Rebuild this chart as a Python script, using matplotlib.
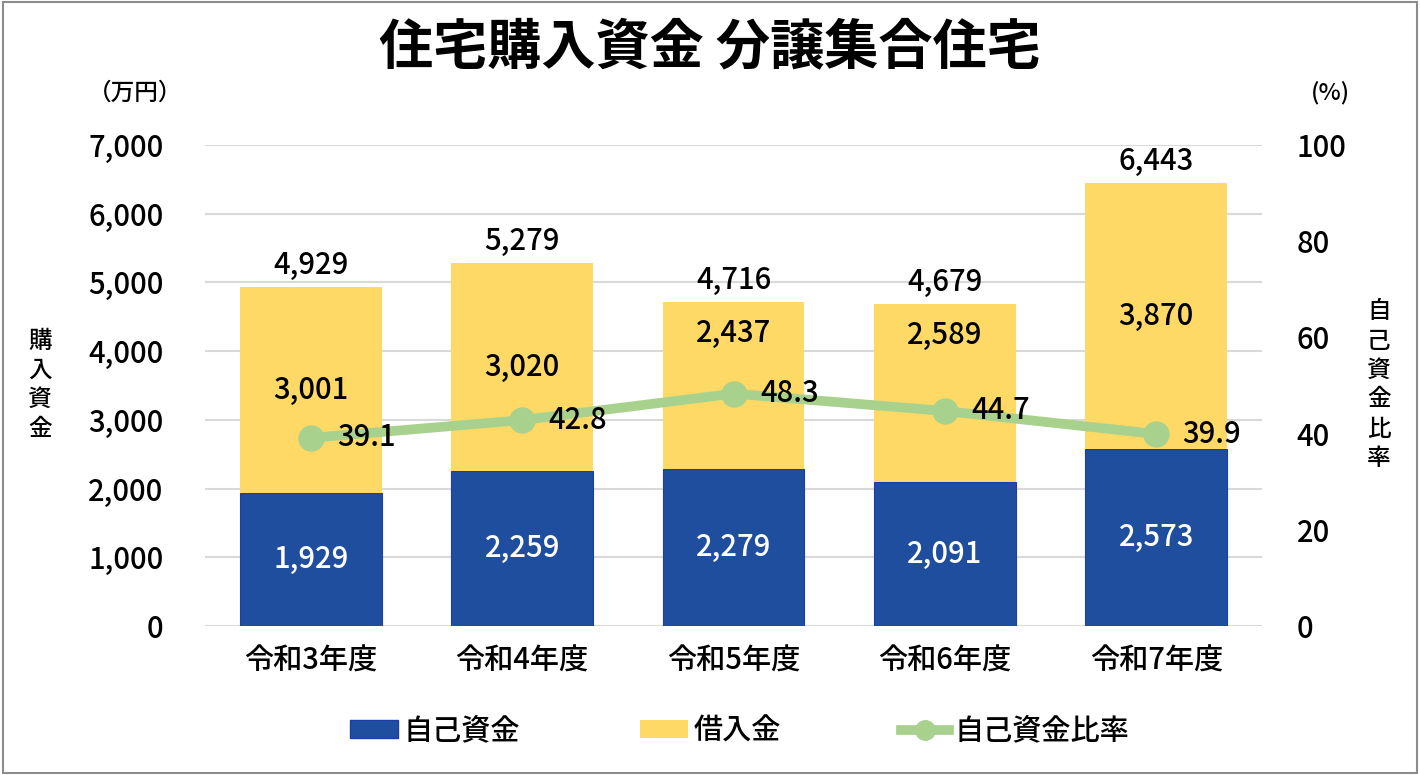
import matplotlib
matplotlib.use('Agg')
import matplotlib.pyplot as plt
from matplotlib.patches import Rectangle
from matplotlib.lines import Line2D
from matplotlib.patches import Patch

plt.rcParams['font.family'] = ['Noto Sans CJK JP', 'DejaVu Sans']
plt.rcParams['font.weight'] = 'medium'

# -----------------------------------------------------------------------------
# data

years = ['令和3年度', '令和4年度', '令和5年度', '令和6年度', '令和7年度']
own_funds = [1929, 2259, 2279, 2091, 2573]       # 自己資金
loans = [3001, 3020, 2437, 2589, 3870]           # 借入金
totals = [4929, 5279, 4716, 4679, 6443]
own_ratio = [39.1, 42.8, 48.3, 44.7, 39.9]       # 自己資金比率 (%)

# -----------------------------------------------------------------------------
# plot

c_blue = '#1F4E9F'
c_yellow = '#FFD966'
c_green = '#A9D18E'
fs = 21

fig = plt.figure(figsize=(14.2, 7.75), dpi=100)
ax = fig.add_axes([0.1444, 0.1923, 0.7443, 0.6206])
ax2 = ax.twinx()

x = range(len(years))
ax.bar(x, own_funds, width=0.67, color=c_blue, edgecolor='#1A3DA8', linewidth=0.8, zorder=2)
ax.bar(x, loans, width=0.67, bottom=own_funds, color=c_yellow, zorder=2)

# yellow labels of 令和5/6年度 are lifted to keep clear of the ratio labels
lift = {2: 4264 - (own_funds[2] + loans[2] / 2), 3: 4235 - (own_funds[3] + loans[3] / 2)}
for i in x:
    ax.text(i, own_funds[i] / 2, f'{own_funds[i]:,}', ha='center', va='center',
            color='white', fontsize=fs, zorder=3)
    ax.text(i, own_funds[i] + loans[i] / 2 + lift.get(i, 0), f'{loans[i]:,}',
            ha='center', va='center', color='black', fontsize=fs, zorder=3)
    ax.text(i, totals[i] + 320, f'{totals[i]:,}', ha='center', va='center',
            color='black', fontsize=fs, zorder=3)

ax.set_xlim(-0.5, 4.5)
ax.set_ylim(0, 7000)
ax.set_yticks(range(0, 7001, 1000))
ax.set_yticklabels([f'{v:,}' for v in range(0, 7001, 1000)])
ax.yaxis.grid(True, color='#D9D9D9', linewidth=1.5, zorder=0)
ax.set_axisbelow(True)
ax.set_xticks(list(x))
ax.set_xticklabels(years)
ax.tick_params(axis='both', length=0, labelsize=fs)
ax.tick_params(axis='x', pad=14)
ax.tick_params(axis='y', pad=30)
for s in ax.spines.values():
    s.set_visible(False)

ax2.plot(list(x), own_ratio, color=c_green, linewidth=7, marker='o', markersize=18, zorder=4)
for i in x:
    ax2.annotate(f'{own_ratio[i]}', (i, own_ratio[i]), xytext=(19, 0),
                 textcoords='offset points', ha='left', va='center', fontsize=fs, zorder=6)
ax2.set_ylim(0, 100)
ax2.set_yticks(range(0, 101, 20))
ax2.tick_params(axis='y', length=0, labelsize=fs, pad=25)
for s in ax2.spines.values():
    s.set_visible(False)
ax.set_zorder(1)
ax2.set_zorder(2)
ax.patch.set_visible(False)

# texts
fig.text(0.5, 0.938, '住宅購入資金 分譲集合住宅', ha='center', va='center',
         fontsize=39, fontweight='bold')
fig.text(0.095, 0.88, '（万円）', ha='center', va='center', fontsize=17)
fig.text(0.937, 0.88, '(%)', ha='center', va='center', fontsize=17)
fig.text(0.028, 0.503, '\n'.join('購入資金'), ha='center', va='center', fontsize=17,
         linespacing=1.35)
fig.text(0.971, 0.503, '\n'.join('自己資金比率'), ha='center', va='center', fontsize=17,
         linespacing=1.35)

handles = [Patch(facecolor=c_blue, edgecolor='#1A3DA8'),
           Patch(facecolor=c_yellow),
           Line2D([0], [0], color=c_green, linewidth=7, marker='o', markersize=14)]
fig.legend(handles, ['自己資金', '借入金', '自己資金比率'], loc='center',
           bbox_to_anchor=(0.521, 0.057), ncol=3, frameon=False, fontsize=fs,
           columnspacing=4.1, handlelength=1.65, handleheight=0.6, handletextpad=0.2)

fig.add_artist(Rectangle((0.002, 0.003), 0.996, 0.994, transform=fig.transFigure,
                         fill=False, edgecolor='#8C8C8C', linewidth=1.5))

fig.savefig('out.png', dpi=100)
